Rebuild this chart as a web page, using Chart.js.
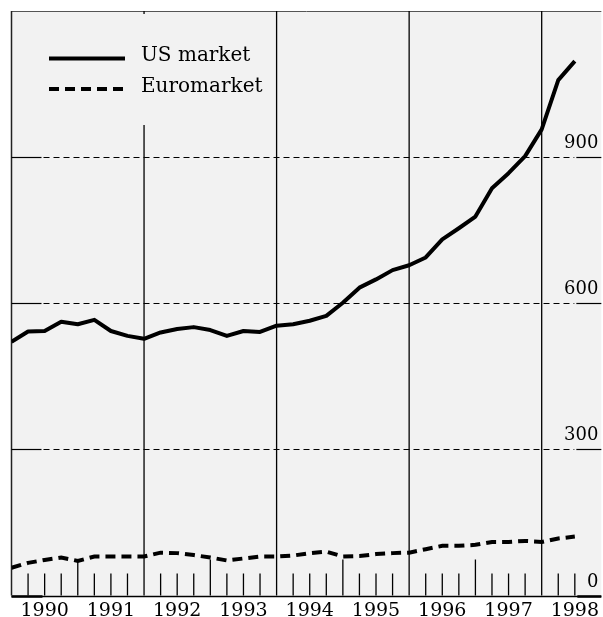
<!DOCTYPE html>
<html>
<head>
<meta charset="utf-8">
<script src="https://cdn.jsdelivr.net/npm/chart.js@4.4.0/dist/chart.umd.min.js"></script>
<style>
  html, body { margin: 0; padding: 0; background: #fff; }
</style>
</head>
<body>
<canvas id="grafico" width="603" height="617"></canvas>
<script>
// dados (trimestral, 1990 T1 ate 1998 T3)
const quarters = [
  '1990 Q1', '1990 Q2', '1990 Q3', '1990 Q4',
  '1991 Q1', '1991 Q2', '1991 Q3', '1991 Q4',
  '1992 Q1', '1992 Q2', '1992 Q3', '1992 Q4',
  '1993 Q1', '1993 Q2', '1993 Q3', '1993 Q4',
  '1994 Q1', '1994 Q2', '1994 Q3', '1994 Q4',
  '1995 Q1', '1995 Q2', '1995 Q3', '1995 Q4',
  '1996 Q1', '1996 Q2', '1996 Q3', '1996 Q4',
  '1997 Q1', '1997 Q2', '1997 Q3', '1997 Q4',
  '1998 Q1', '1998 Q2', '1998 Q3'
]
const usMarket = [521, 542, 543, 562, 557, 566, 543, 533, 527, 540, 547, 551, 545, 533, 543, 541,
  554, 557, 564, 574, 601, 632, 649, 668, 678, 694, 731, 754, 778, 836, 867, 902, 957, 1058, 1097]
const euromarket = [57, 67, 73, 78, 71, 80, 80, 80, 80, 88, 87, 83, 78, 72, 76, 80,
  80, 82, 87, 90, 80, 81, 85, 87, 88, 95, 102, 102, 104, 110, 110, 112, 110, 117, 121]
const years = ['1990', '1991', '1992', '1993', '1994', '1995', '1996', '1997', '1998']
const yTicks = [0, 300, 600, 900]
const seriesNames = ['US market', 'Euromarket']

const FONTE = 'DejaVu Serif'
const FUNDO = '#f2f2f2'

// desenha fundo, grade tracejada, marcas dos trimestres, rotulos da direita e legenda
const decoracao = {
  id: 'decoracao',
  beforeDraw(chart) {
    const { ctx, chartArea: a } = chart
    ctx.save()
    ctx.fillStyle = FUNDO
    ctx.fillRect(a.left, a.top, a.right - a.left, a.bottom - a.top)
    ctx.restore()
  },
  beforeDatasetsDraw(chart) {
    const { ctx, chartArea: a, scales: { x, y } } = chart
    ctx.save()

    // bordas
    ctx.strokeStyle = '#555'
    ctx.lineWidth = 1
    ctx.beginPath(); ctx.moveTo(a.left, a.top + 0.5); ctx.lineTo(a.right, a.top + 0.5); ctx.stroke()
    ctx.strokeStyle = '#222'
    ctx.lineWidth = 1.5
    ctx.beginPath(); ctx.moveTo(a.left, a.top); ctx.lineTo(a.left, a.bottom); ctx.stroke()

    // linhas horizontais
    ctx.strokeStyle = '#000'
    yTicks.forEach(v => {
      const py = Math.round(y.getPixelForValue(v)) + 0.5
      if (v === 0) {
        ctx.lineWidth = 1.5
        ctx.beginPath(); ctx.moveTo(a.left, py); ctx.lineTo(a.right, py); ctx.stroke()
        ctx.lineWidth = 2.5
        ctx.beginPath(); ctx.moveTo(a.left, py); ctx.lineTo(a.left + 31, py); ctx.stroke()
        ctx.beginPath(); ctx.moveTo(a.right - 24, py); ctx.lineTo(a.right, py); ctx.stroke()
        return
      }
      ctx.lineWidth = 1.2
      ctx.setLineDash([])
      ctx.beginPath(); ctx.moveTo(a.left, py); ctx.lineTo(a.left + 30, py); ctx.stroke()
      ctx.beginPath(); ctx.moveTo(a.right - 25, py); ctx.lineTo(a.right, py); ctx.stroke()
      ctx.setLineDash([6, 4])
      ctx.beginPath(); ctx.moveTo(a.left + 32, py); ctx.lineTo(a.right - 27, py); ctx.stroke()
      ctx.setLineDash([])
    })

    // linhas verticais e marcas dos trimestres
    ctx.lineWidth = 1.3
    quarters.forEach((q, i) => {
      if (i === 0) return
      const px = x.getPixelForValue(i)
      let topo
      if (i % 8 === 0) topo = a.top
      else if (i % 4 === 0) topo = a.bottom - 36
      else topo = a.bottom - 22
      ctx.beginPath(); ctx.moveTo(px, topo); ctx.lineTo(px, a.bottom); ctx.stroke()
    })

    // rotulos do eixo y (lado direito, acima da linha)
    ctx.fillStyle = '#000'
    ctx.font = `18px "${FONTE}"`
    ctx.textAlign = 'right'
    ctx.textBaseline = 'alphabetic'
    yTicks.forEach(v => {
      ctx.fillText(String(v), a.right - 3, y.getPixelForValue(v) - 9)
    })

    // legenda (cobre a linha vertical de 1992)
    ctx.fillStyle = FUNDO
    ctx.fillRect(a.left + 3, a.top + 3, 255, 111)
    const estilos = [[], [10, 6]]
    const ys = [58.5, 89]
    ctx.strokeStyle = '#000'
    ctx.lineWidth = 4
    seriesNames.forEach((nome, k) => {
      ctx.setLineDash(estilos[k])
      ctx.beginPath(); ctx.moveTo(49, ys[k]); ctx.lineTo(125, ys[k]); ctx.stroke()
      ctx.setLineDash([])
      ctx.fillStyle = '#000'
      ctx.font = `20px "${FONTE}"`
      ctx.textAlign = 'left'
      ctx.fillText(nome, 141, ys[k] + 2.8)
    })
    ctx.restore()
  }
}

new Chart(document.getElementById('grafico').getContext('2d'), {
  type: 'line',
  data: {
    datasets: [
      {
        label: seriesNames[0],
        data: usMarket.map((v, i) => ({ x: i, y: v })),
        borderColor: '#000',
        borderWidth: 4,
        borderJoinStyle: 'round',
        pointRadius: 0,
        tension: 0
      },
      {
        label: seriesNames[1],
        data: euromarket.map((v, i) => ({ x: i, y: v })),
        borderColor: '#000',
        borderWidth: 4,
        borderDash: [10, 6],
        pointRadius: 0,
        tension: 0
      }
    ]
  },
  options: {
    responsive: false,
    animation: false,
    devicePixelRatio: 1,
    layout: { padding: { left: 11.5, top: 11, right: 0, bottom: 0 } },
    plugins: { legend: { display: false }, tooltip: { enabled: false } },
    scales: {
      x: {
        type: 'linear',
        min: 0,
        max: 35.6,
        grid: { display: false, drawTicks: false },
        border: { display: false },
        afterBuildTicks: s => { s.ticks = years.map((_, k) => ({ value: 2 + 4 * k })) },
        afterFit: s => { s.height = 21.5 },
        ticks: {
          autoSkip: false,
          maxRotation: 0,
          padding: 4,
          color: '#000',
          font: { family: FONTE, size: 19 },
          callback: (v, i) => years[i]
        }
      },
      y: {
        display: false,
        min: 0,
        max: 1200
      }
    }
  },
  plugins: [decoracao]
})
</script>
</body>
</html>
